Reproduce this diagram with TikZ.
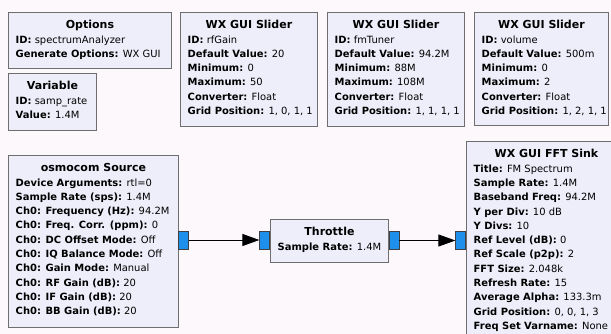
\documentclass[tikz,border=0pt]{standalone}
\usepackage{fontspec}
\setmainfont{DejaVu Sans}
\usetikzlibrary{arrows.meta}
\definecolor{bgc}{HTML}{FCF8FC}
\definecolor{blkfill}{HTML}{EEEEFA}
\definecolor{blkline}{HTML}{6E6E6E}
\definecolor{portc}{HTML}{1E8FEA}
\tikzset{
  blk/.style={draw=blkline, fill=blkfill, line width=0.9pt, inner sep=0pt, rectangle},
  ttl/.style={font=\fontsize{11}{12}\selectfont\bfseries, inner sep=0pt},
  txt/.style={font=\fontsize{9.95}{12}\selectfont, inner sep=0pt},
  port/.style={draw=black!75, fill=portc, line width=0.6pt, minimum width=10pt, minimum height=18pt, inner sep=0pt, rectangle},
  flow/.style={line width=0.8pt, -{Triangle[length=17pt,width=12pt]}, shorten >=0pt}
}
\newcommand\grcblock[7]{%
  \node[blk, minimum width=#4pt, minimum height=#5pt, anchor=north west] (#1) at (#2,-#3) {};
  \node[ttl, anchor=base] (#1-t) at ([yshift=-16.8pt]#1.north) {#6};
  \foreach \ln [count=\i] in {#7}
    \node[txt, anchor=base west] (#1-\i) at ([xshift=7.5pt, yshift=-16.8pt-14.3pt*\i]#1.north west) {\ln};
}
\begin{document}
\begin{tikzpicture}[x=1pt,y=1pt]
\useasboundingbox (0,0) rectangle (611,-334);
\fill[bgc] (0,0) rectangle (611,-334);
\clip (0,0) rectangle (611,-334);
\grcblock{opt}{8}{12}{163}{56}{Options}{{\textbf{ID:} spectrumAnalyzer},{\textbf{Generate Options:} WX GUI}}
\grcblock{var}{8}{73}{88}{57}{Variable}{{\textbf{ID:} samp\_rate},{\textbf{Value:} 1.4M}}
\grcblock{rfg}{180}{12}{137}{114}{WX GUI Slider}{{\textbf{ID:} rfGain},{\textbf{Default Value:} 20},{\textbf{Minimum:} 0},{\textbf{Maximum:} 50},{\textbf{Converter:} Float},{\textbf{Grid Position:} 1, 0, 1, 1}}
\grcblock{fmt}{327}{12}{137}{114}{WX GUI Slider}{{\textbf{ID:} fmTuner},{\textbf{Default Value:} 94.2M},{\textbf{Minimum:} 88M},{\textbf{Maximum:} 108M},{\textbf{Converter:} Float},{\textbf{Grid Position:} 1, 1, 1, 1}}
\grcblock{vol}{474}{12}{134}{113}{WX GUI Slider}{{\textbf{ID:} volume},{\textbf{Default Value:} 500m},{\textbf{Minimum:} 0},{\textbf{Maximum:} 2},{\textbf{Converter:} Float},{\textbf{Grid Position:} 1, 2, 1, 1}}
\grcblock{src}{8}{155}{170}{172}{osmocom Source}{{\textbf{Device Arguments:} rtl=0},{\textbf{Sample Rate (sps):} 1.4M},{\textbf{Ch0: Frequency (Hz):} 94.2M},{\textbf{Ch0: Freq. Corr. (ppm):} 0},{\textbf{Ch0: DC Offset Mode:} Off},{\textbf{Ch0: IQ Balance Mode:} Off},{\textbf{Ch0: Gain Mode:} Manual},{\textbf{Ch0: RF Gain (dB):} 20},{\textbf{Ch0: IF Gain (dB):} 20},{\textbf{Ch0: BB Gain (dB):} 20}}
\grcblock{thr}{270}{219}{118}{43}{Throttle}{{\textbf{Sample Rate:} 1.4M}}
\grcblock{fft}{466}{141}{160}{210}{WX GUI FFT Sink}{{\textbf{Title:} FM Spectrum},{\textbf{Sample Rate:} 1.4M},{\textbf{Baseband Freq:} 94.2M},{\textbf{Y per Div:} 10 dB},{\textbf{Y Divs:} 10},{\textbf{Ref Level (dB):} 0},{\textbf{Ref Scale (p2p):} 2},{\textbf{FFT Size:} 2.048k},{\textbf{Refresh Rate:} 15},{\textbf{Average Alpha:} 133.3m},{\textbf{Grid Position:} 0, 0, 1, 3},{\textbf{Freq Set Varname:} None}}
\node[port, anchor=west] (src-out) at (178,-240) {};
\node[port, anchor=east] (thr-in) at (270,-240) {};
\node[port, anchor=west] (thr-out) at (388.5,-240.5) {};
\node[port, anchor=east] (fft-in) at (466,-240.5) {};
\draw[flow] (src-out) -- (thr-in);
\draw[flow] (thr-out) -- (fft-in);
\end{tikzpicture}
\end{document}
